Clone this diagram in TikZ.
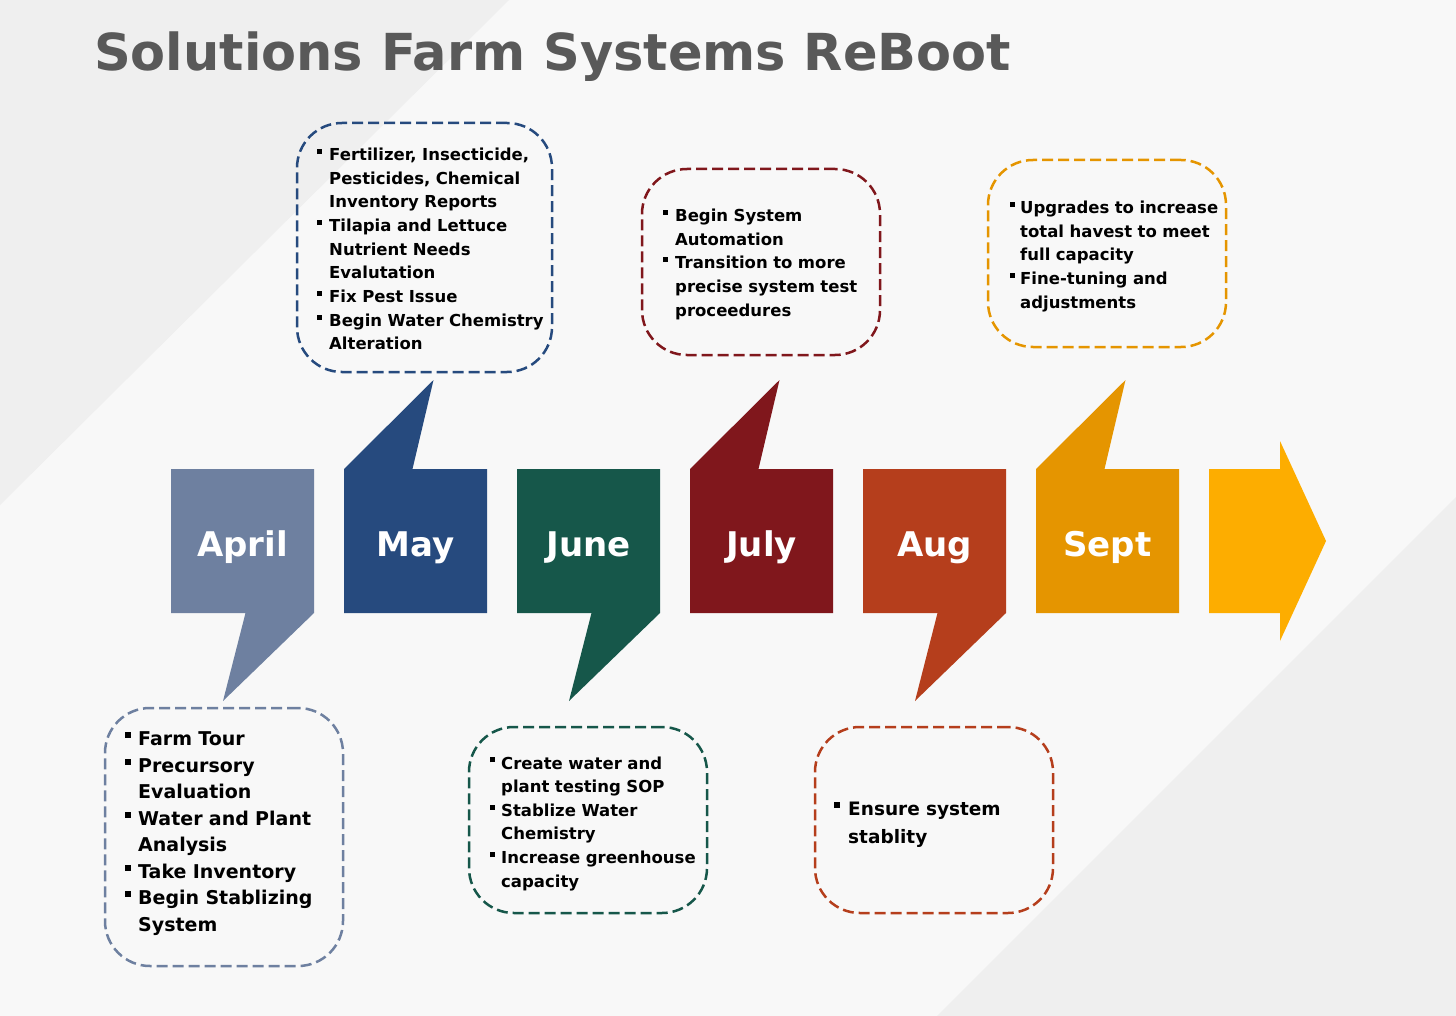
\documentclass[tikz,border=0pt]{standalone}
\usepackage{fontspec}
\setmainfont{DejaVu Sans}

\definecolor{bgcol}{HTML}{F8F8F8}
\definecolor{bgdark}{HTML}{EFEFEF}
\definecolor{titlecol}{HTML}{595959}
\definecolor{aprcol}{HTML}{6E80A0}
\definecolor{maycol}{HTML}{264A7E}
\definecolor{juncol}{HTML}{16574A}
\definecolor{julcol}{HTML}{80171C}
\definecolor{augcol}{HTML}{B53E1C}
\definecolor{sepcol}{HTML}{E59500}
\definecolor{arrcol}{HTML}{FDAD00}

\newlength{\bulgap}
\newcommand{\bul}{\makebox[\bulgap][l]{\rule[0.4em]{0.3em}{0.3em}}}
\newcommand{\ind}{\hspace*{\bulgap}}

\tikzset{
  month/.style={text=white,font=\fontsize{34}{40}\selectfont\bfseries,anchor=base,inner sep=0pt},
  note/.style={draw=#1,line width=2.5pt,dash pattern=on 11pt off 5pt,rounded corners=45pt,inner sep=0pt},
  notetext/.style={anchor=base west,inner sep=0pt,align=left,text width=250pt},
  smalltext/.style={notetext,font=\fontsize{16.5}{23.65}\selectfont\bfseries},
}

\begin{document}
\begin{tikzpicture}[x=1pt,y=-1pt]
   \useasboundingbox (0,0) rectangle (1456,1016);
   % background
   \fill[bgcol] (0,0) rectangle (1456,1016);
   \fill[bgdark] (0,0) -- (509,0) -- (0,505) -- cycle;
   \fill[bgdark] (1456,497) -- (1456,1016) -- (937,1016) -- cycle;

   \node[anchor=base west,inner sep=0pt,text=titlecol,font=\fontsize{51}{60}\selectfont\bfseries] (title) at (94,71) {Solutions Farm Systems ReBoot};

   % month callouts
   \begin{scope}[shift={(171,469)}]
    \fill[aprcol] (0,0) -- (143,0) -- (143,144) -- (52,232) -- (74.5,144) -- (0,144) -- cycle;
    \node[month] (april) at (71.5,87) {April};
   \end{scope}
   \begin{scope}[shift={(344,469)}]
    \fill[maycol] (0,0) -- (89.5,-89) -- (68.5,0) -- (143,0) -- (143,144) -- (0,144) -- cycle;
    \node[month] (may) at (71.5,87) {May};
   \end{scope}
   \begin{scope}[shift={(517,469)}]
    \fill[juncol] (0,0) -- (143,0) -- (143,144) -- (52,232) -- (74.5,144) -- (0,144) -- cycle;
    \node[month] (june) at (71.5,87) {June};
   \end{scope}
   \begin{scope}[shift={(690,469)}]
    \fill[julcol] (0,0) -- (89.5,-89) -- (68.5,0) -- (143,0) -- (143,144) -- (0,144) -- cycle;
    \node[month] (july) at (71.5,87) {July};
   \end{scope}
   \begin{scope}[shift={(863,469)}]
    \fill[augcol] (0,0) -- (143,0) -- (143,144) -- (52,232) -- (74.5,144) -- (0,144) -- cycle;
    \node[month] (aug) at (71.5,87) {Aug};
   \end{scope}
   \begin{scope}[shift={(1036,469)}]
    \fill[sepcol] (0,0) -- (89.5,-89) -- (68.5,0) -- (143,0) -- (143,144) -- (0,144) -- cycle;
    \node[month] (sept) at (71.5,87) {Sept};
   \end{scope}
   \begin{scope}[shift={(1209,469)}]
    \fill[arrcol] (0,0) -- (71,0) -- (71,-28) -- (117,72) -- (71,172) -- (71,144) -- (0,144) -- cycle;
   \end{scope}

   % dashed notes
   \node[note=aprcol,minimum width=238pt,minimum height=258pt] (aprnote) at (224,837) {};
   \node[note=maycol,minimum width=255pt,minimum height=249pt] (maynote) at (424.5,247.5) {};
   \node[note=juncol,minimum width=238pt,minimum height=186pt] (junnote) at (588,820) {};
   \node[note=julcol,minimum width=238pt,minimum height=186pt] (julnote) at (761,262) {};
   \node[note=augcol,minimum width=238pt,minimum height=186pt] (augnote) at (934,820) {};
   \node[note=sepcol,minimum width=238pt,minimum height=187pt] (sepnote) at (1107,253.5) {};

   \node[notetext,font=\fontsize{19}{26.5}\selectfont\bfseries] (aprtext) at (125,745.7)
    {\setlength{\bulgap}{13pt}\bul Farm Tour\\ \bul Precursory\\ \ind Evaluation\\ \bul Water and Plant\\ \ind Analysis\\ \bul Take Inventory\\ \bul Begin Stablizing\\ \ind System};
   \node[smalltext] (maytext) at (317,160.7)
    {\setlength{\bulgap}{12pt}\bul Fertilizer, Insecticide,\\ \ind Pesticides, Chemical\\ \ind Inventory Reports\\ \bul Tilapia and Lettuce\\ \ind Nutrient Needs\\ \ind Evalutation\\ \bul Fix Pest Issue\\ \bul Begin Water Chemistry\\ \ind Alteration};
   \node[smalltext] (juntext) at (490,769)
    {\setlength{\bulgap}{11pt}\bul Create water and\\ \ind plant testing SOP\\ \bul Stablize Water\\ \ind Chemistry\\ \bul Increase greenhouse\\ \ind capacity};
   \node[smalltext] (jultext) at (663,221.5)
    {\setlength{\bulgap}{12pt}\bul Begin System\\ \ind Automation\\ \bul Transition to more\\ \ind precise system test\\ \ind proceedures};
   \node[notetext,font=\fontsize{18.5}{28.5}\selectfont\bfseries] (augtext) at (834,815.3)
    {\setlength{\bulgap}{14pt}\bul Ensure system\\ \ind stablity};
   \node[smalltext] (septext) at (1010,213.5)
    {\setlength{\bulgap}{10pt}\bul Upgrades to increase\\ \ind total havest to meet\\ \ind full capacity\\ \bul Fine-tuning and\\ \ind adjustments};
\end{tikzpicture}
\end{document}
